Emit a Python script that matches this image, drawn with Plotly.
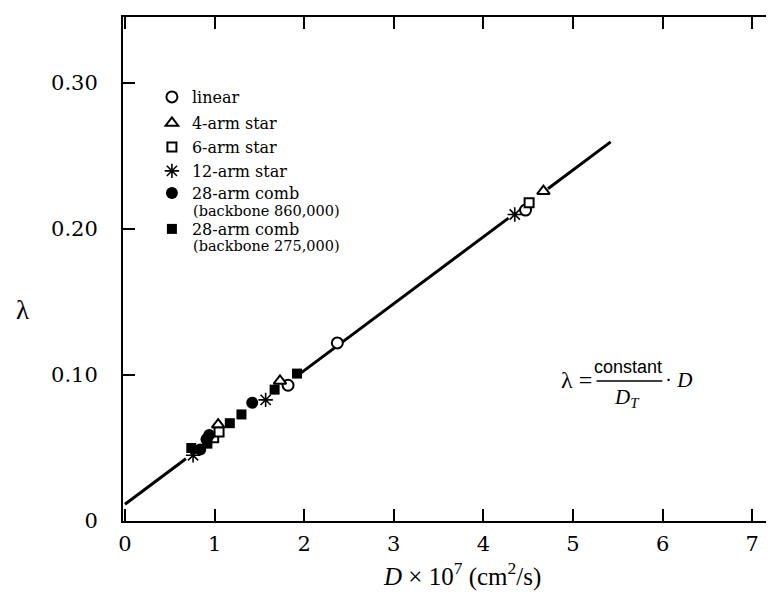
import plotly.graph_objects as go

# ---- data ----
linear_x = [1.82, 2.37, 4.47]
linear_y = [0.093, 0.122, 0.213]
arm4_x = [1.04, 1.73, 4.67]
arm4_y = [0.066, 0.096, 0.226]
arm6_x = [0.99, 1.05, 4.51]
arm6_y = [0.057, 0.061, 0.218]
arm12_x = [0.76, 1.57, 4.35]
arm12_y = [0.045, 0.083, 0.210]
comb860_x = [0.84, 0.91, 0.94, 1.42]
comb860_y = [0.049, 0.056, 0.059, 0.081]
comb275_x = [0.74, 0.92, 1.17, 1.30, 1.67, 1.92]
comb275_y = [0.050, 0.053, 0.067, 0.073, 0.090, 0.101]

# fitted line: lambda = intercept + slope * D, drawn in visible pieces
fit_intercept = 0.0115
fit_slope = 0.0458
fit_pieces = [(0.0, 0.68), (1.95, 4.28), (4.72, 5.42)]

x_ticks = [0, 1, 2, 3, 4, 5, 6, 7]
y_ticks = [0, 0.10, 0.20, 0.30]
y_ticktext = ["0", "0.10", "0.20", "0.30"]

SERIF = "Liberation Serif, Times New Roman, serif"
WIDE_SERIF = "DejaVu Serif, serif"
SANS = "Liberation Sans, Arial, sans-serif"

W, H = 774, 594
L, R, T, B = 115, 0, 9, 81
pw, ph = W - L - R, H - T - B


def px(xp):
    return (xp - L) / pw


def py(yp):
    return (H - B - yp) / ph


fig = go.Figure()

lx, ly = [], []
for a, b in fit_pieces:
    lx += [a, b, None]
    ly += [fit_intercept + fit_slope * a, fit_intercept + fit_slope * b, None]
fig.add_trace(go.Scatter(x=lx, y=ly, mode="lines", line=dict(color="black", width=3),
                         showlegend=False, hoverinfo="skip"))

# legend rows: (name, x, y, symbol, size, fill, outline width, legend id, row centre px)
series = [
    ("linear", linear_x, linear_y, "circle", 11, "white", 2, "legend", 89),
    ("4-arm star", arm4_x, arm4_y, "triangle-up", 11, "white", 2, "legend2", 115),
    ("6-arm star", arm6_x, arm6_y, "square", 9, "white", 2, "legend3", 139),
    ("12-arm star", arm12_x, arm12_y, "asterisk", 12, "black", 1.6, "legend4", 163),
    ("28-arm comb", comb860_x, comb860_y, "circle", 12, "black", 0, "legend5", 185),
    ("28-arm comb", comb275_x, comb275_y, "square", 10, "black", 0, "legend6", 221),
]

legend_layout = {}
for name, xs, ys, sym, size, fill, lw, lid, rowy in series:
    fig.add_trace(go.Scatter(
        x=xs, y=ys, mode="markers", name=name, legend=lid,
        marker=dict(symbol=sym, size=size, color=fill,
                    line=dict(color="black", width=lw))))
    legend_layout[lid] = dict(x=px(144), y=py(rowy), xanchor="left", yanchor="middle",
                              bgcolor="rgba(0,0,0,0)",
                              font=dict(family=WIDE_SERIF, size=16, color="black"),
                              itemwidth=30)

backbone_notes = [("(backbone 860,000)", 203), ("(backbone 275,000)", 238)]
for txt, rowy in backbone_notes:
    fig.add_annotation(x=px(183), y=py(rowy), xref="paper", yref="paper", text=txt,
                       xanchor="left", yanchor="middle", showarrow=False,
                       font=dict(family=WIDE_SERIF, size=14.5, color="black"))

axis_common = dict(showline=True, linecolor="black", linewidth=2, mirror="allticks",
                   ticks="inside", ticklen=12, tickwidth=1.5, tickcolor="black",
                   showgrid=False, zeroline=False,
                   tickfont=dict(family=WIDE_SERIF, size=21, color="black"))

fig.update_layout(
    width=W, height=H,
    margin=dict(l=L, r=R, t=T, b=B),
    plot_bgcolor="white", paper_bgcolor="white",
    font=dict(family=SERIF, color="black"),
    xaxis=dict(range=[-0.022, 7.31], tickvals=x_ticks, ticklabelstandoff=3,
               **axis_common),
    yaxis=dict(range=[0, 0.3453], tickvals=y_ticks, ticktext=y_ticktext,
               ticklabelstandoff=19, **axis_common),
    **legend_layout,
)

# x-axis title
fig.add_annotation(x=px(455), y=py(566), xref="paper", yref="paper",
                   text="<i>D</i> × 10<sup>7</sup> (cm<sup>2</sup>/s)",
                   xanchor="center", yanchor="middle", showarrow=False,
                   font=dict(family=SERIF, size=25))

# y-axis label (upright lambda)
fig.add_annotation(x=px(14), y=py(302), xref="paper", yref="paper", text="λ",
                   xanchor="center", yanchor="middle", showarrow=False,
                   font=dict(family=SERIF, size=27))

# equation  lambda = constant / D_T * D
eq = [
    ("λ =", 570, 372, SERIF, 24),
    ("constant", 622, 359, SANS, 18),
    ("<i>D<sub>T</sub></i>", 621, 390, SERIF, 21),
    ("· <i>D</i>", 672, 372, SERIF, 21),
]
for txt, xx, yy, fam, sz in eq:
    fig.add_annotation(x=px(xx), y=py(yy), xref="paper", yref="paper", text=txt,
                       xanchor="center", yanchor="middle", showarrow=False,
                       font=dict(family=fam, size=sz))
fig.add_shape(type="line", xref="paper", yref="paper", x0=px(590), x1=px(656),
              y0=py(373), y1=py(373), line=dict(color="black", width=1.3))

fig.write_html("out.html")
